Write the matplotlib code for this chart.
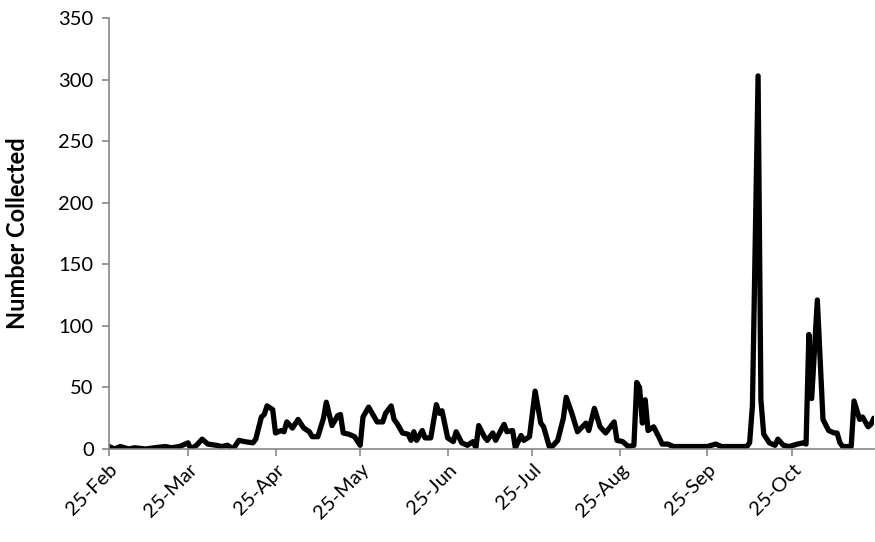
import pandas as pd
import matplotlib
matplotlib.use("Agg")
import matplotlib.pyplot as plt
import matplotlib.dates as mdates

plt.rcParams['font.family'] = ['Lato', 'DejaVu Sans']

#### Data (one row per sample date)

dates = [
    "2011-02-25", "2011-02-27", "2011-03-01", "2011-03-04", "2011-03-06", "2011-03-10",
    "2011-03-13", "2011-03-17", "2011-03-19", "2011-03-22", "2011-03-25", "2011-03-26",
    "2011-03-28", "2011-03-30", "2011-04-01", "2011-04-04", "2011-04-06", "2011-04-08",
    "2011-04-10", "2011-04-12", "2011-04-14", "2011-04-17", "2011-04-18", "2011-04-20",
    "2011-04-21", "2011-04-22", "2011-04-24", "2011-04-25", "2011-04-27", "2011-04-28",
    "2011-04-29", "2011-05-01", "2011-05-03", "2011-05-05", "2011-05-07", "2011-05-08",
    "2011-05-10", "2011-05-12", "2011-05-13", "2011-05-15", "2011-05-17", "2011-05-18",
    "2011-05-19", "2011-05-21", "2011-05-23", "2011-05-25", "2011-05-26", "2011-05-28",
    "2011-05-31", "2011-06-02", "2011-06-03", "2011-06-05", "2011-06-06", "2011-06-07",
    "2011-06-09", "2011-06-11", "2011-06-12", "2011-06-13", "2011-06-14", "2011-06-16",
    "2011-06-17", "2011-06-19", "2011-06-21", "2011-06-22", "2011-06-23", "2011-06-25",
    "2011-06-27", "2011-06-28", "2011-06-30", "2011-07-02", "2011-07-04", "2011-07-05",
    "2011-07-06", "2011-07-08", "2011-07-09", "2011-07-11", "2011-07-12", "2011-07-15",
    "2011-07-16", "2011-07-18", "2011-07-19", "2011-07-21", "2011-07-22", "2011-07-24",
    "2011-07-26", "2011-07-28", "2011-07-29", "2011-07-31", "2011-08-01", "2011-08-03",
    "2011-08-05", "2011-08-06", "2011-08-08", "2011-08-10", "2011-08-13", "2011-08-14",
    "2011-08-16", "2011-08-18", "2011-08-20", "2011-08-23", "2011-08-24", "2011-08-26",
    "2011-08-28", "2011-08-30", "2011-08-31", "2011-09-01", "2011-09-02", "2011-09-03",
    "2011-09-04", "2011-09-06", "2011-09-08", "2011-09-09", "2011-09-11", "2011-09-13",
    "2011-09-19", "2011-09-25", "2011-09-28", "2011-09-30", "2011-10-05", "2011-10-09",
    "2011-10-10", "2011-10-11", "2011-10-13", "2011-10-14", "2011-10-15", "2011-10-17",
    "2011-10-19", "2011-10-20", "2011-10-22", "2011-10-24", "2011-10-27", "2011-10-29",
    "2011-10-30", "2011-10-31", "2011-11-01", "2011-11-03", "2011-11-05", "2011-11-07",
    "2011-11-09", "2011-11-10", "2011-11-11", "2011-11-12", "2011-11-15", "2011-11-16",
    "2011-11-18", "2011-11-19", "2011-11-21", "2011-11-22", "2011-11-23",
]

counts = [
    2, 0, 2, 0, 1, 0,
    1, 2, 1, 2, 5, 0,
    3, 8, 4, 3, 2, 3,
    0, 7, 6, 5, 8, 26,
    28, 35, 32, 13, 15, 14,
    22, 17, 24, 17, 14, 10,
    10, 25, 38, 19, 27, 28,
    13, 12, 10, 3, 26, 34,
    22, 22, 29, 35, 24, 21,
    13, 12, 7, 14, 7, 15,
    9, 9, 36, 29, 31, 9,
    6, 14, 5, 3, 6, 1,
    19, 10, 7, 13, 7, 20,
    14, 15, 1, 11, 7, 10,
    47, 21, 18, 2, 2, 7,
    25, 42, 29, 14, 21, 15,
    33, 18, 13, 22, 7, 6,
    2, 3, 54, 50, 21, 40,
    15, 18, 9, 4, 4, 2,
    2, 2, 4, 2, 2, 2,
    5, 35, 303, 40, 12, 5,
    3, 8, 3, 2, 4, 5,
    4, 93, 41, 121, 24, 15,
    13, 13, 5, 2, 2, 39,
    24, 26, 18, 20, 25,
]

x_start = "2011-02-25"
x_end = "2011-11-23"
y_ticks = [0, 50, 100, 150, 200, 250, 300, 350]

#### Plot

dt = pd.to_datetime(dates)

fig = plt.figure(figsize=(8.75, 5.42), dpi=100)
ax = fig.add_axes([0.1246, 0.1716, 0.874, 0.7952])

ax.plot(dt, counts, color="black", linewidth=3.8, solid_joinstyle="round", solid_capstyle="round")

ax.set_xlim(pd.Timestamp(x_start), pd.Timestamp(x_end))
ax.set_ylim(0, 350)
ax.set_yticks(y_ticks)

# monthly ticks on the 25th, like the original
ax.xaxis.set_major_locator(mdates.MonthLocator(bymonthday=25))
ax.xaxis.set_major_formatter(mdates.DateFormatter("%d-%b"))
plt.setp(ax.get_xticklabels(), rotation=45, ha="right", rotation_mode="anchor")

for side in ["top", "right"]:
    ax.spines[side].set_visible(False)
for side in ["left", "bottom"]:
    ax.spines[side].set_color("#868686")
    ax.spines[side].set_linewidth(1.2)

ax.tick_params(axis="both", colors="#868686", labelcolor="black", labelsize=14.5, length=5, width=1.2)
ax.tick_params(axis="y", pad=6)
ax.set_ylabel("Number Collected", fontsize=17, fontweight="bold")
ax.yaxis.set_label_coords(-0.105, 0.5)

fig.savefig("out.png", dpi=100)
